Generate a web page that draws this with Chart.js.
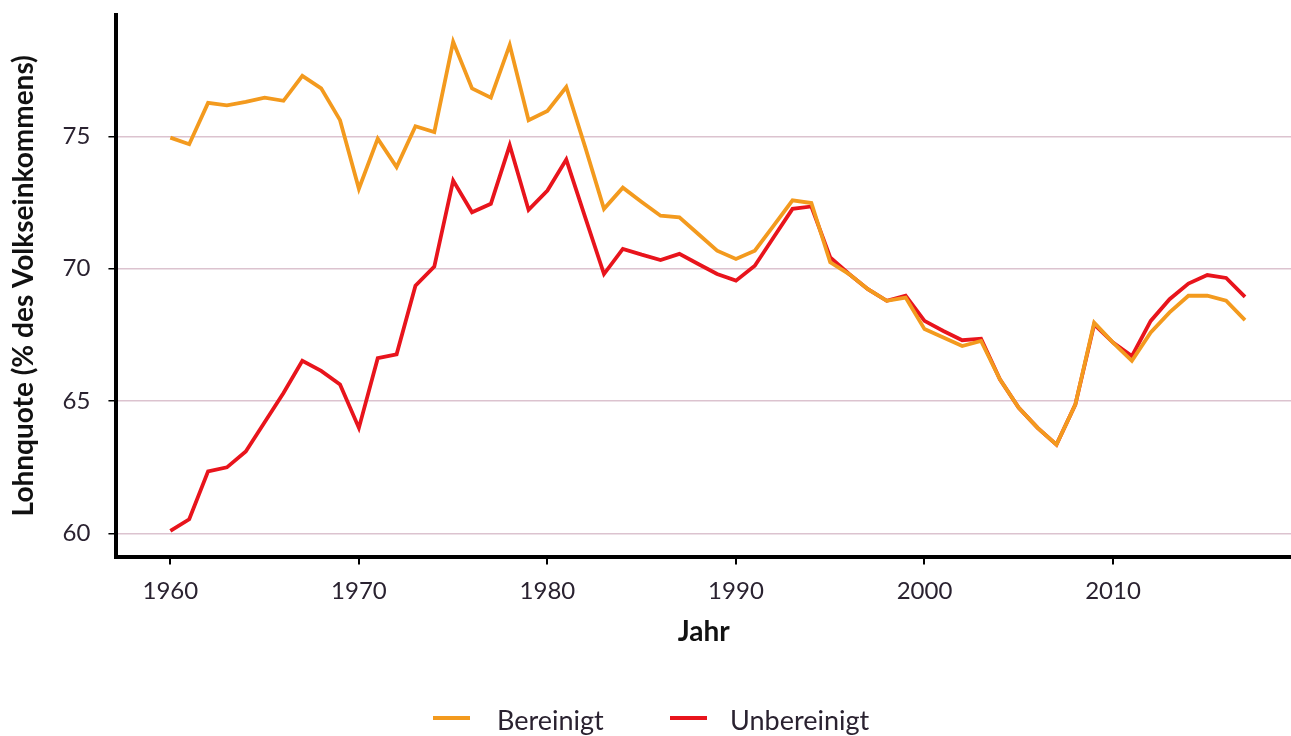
<!DOCTYPE html>
<html>
<head>
<meta charset="utf-8">
<script src="https://cdn.jsdelivr.net/npm/chart.js@4.4.1/dist/chart.umd.min.js"></script>
<style>
  html, body { margin: 0; padding: 0; background: #fff; }
  #wrap { position: relative; width: 1291px; height: 736px; font-family: Lato, "Open Sans", sans-serif; }
  .key { position: absolute; top: 716px; width: 37px; height: 4px; }
  .lbl { position: absolute; top: 703px; font-size: 27px; line-height: 34px; color: #2a2230; }
</style>
</head>
<body>
<div id="wrap">
  <canvas id="lohnChart" width="1291" height="736"></canvas>
  <div class="key" style="left:433px;background:#f39a1e"></div>
  <div class="lbl" style="left:497px">Bereinigt</div>
  <div class="key" style="left:670px;background:#e8141c"></div>
  <div class="lbl" style="left:730px">Unbereinigt</div>
</div>
<script>
// Jahre und Werte (Lohnquote in % des Volkseinkommens)
const years = [1960, 1961, 1962, 1963, 1964, 1965, 1966, 1967, 1968, 1969,
    1970, 1971, 1972, 1973, 1974, 1975, 1976, 1977, 1978, 1979,
    1980, 1981, 1982, 1983, 1984, 1985, 1986, 1987, 1988, 1989,
    1990, 1991, 1992, 1993, 1994, 1995, 1996, 1997, 1998, 1999,
    2000, 2001, 2002, 2003, 2004, 2005, 2006, 2007, 2008, 2009,
    2010, 2011, 2012, 2013, 2014, 2015, 2016, 2017];

const bereinigt = [74.95, 74.70, 76.26, 76.17, 76.30, 76.46, 76.34, 77.28, 76.81, 75.61,
    73.02, 74.91, 73.84, 75.38, 75.16, 78.57, 76.81, 76.46, 78.45, 75.61,
    75.96, 76.86, 74.60, 72.26, 73.06, 72.52, 72.00, 71.94, 71.31, 70.68,
    70.37, 70.68, 71.63, 72.58, 72.48, 70.24, 69.80, 69.23, 68.79, 68.91,
    67.72, 67.40, 67.08, 67.27, 65.82, 64.75, 63.99, 63.36, 64.87, 67.96,
    67.21, 66.52, 67.59, 68.35, 68.98, 68.98, 68.79, 68.06];

const unbereinigt = [60.10, 60.54, 62.35, 62.50, 63.10, 64.20, 65.31, 66.52, 66.14, 65.63,
    63.99, 66.62, 66.77, 69.36, 70.08, 73.33, 72.13, 72.45, 74.66, 72.22,
    72.95, 74.12, 71.95, 69.80, 70.75, 70.53, 70.33, 70.56, 70.18, 69.80,
    69.55, 70.11, 71.19, 72.26, 72.35, 70.43, 69.80, 69.23, 68.79, 68.98,
    68.03, 67.65, 67.30, 67.36, 65.82, 64.75, 63.99, 63.36, 64.87, 67.90,
    67.21, 66.70, 68.03, 68.85, 69.44, 69.76, 69.65, 68.94];

const xTicks = [1960, 1970, 1980, 1990, 2000, 2010];
const yTicks = [60, 65, 70, 75];

const orange = '#f39a1e';
const red = '#e8141c';
const font = 'Lato, "Open Sans", sans-serif';

const ctx = document.getElementById('lohnChart').getContext('2d');
new Chart(ctx, {
    type: 'line',
    data: {
        datasets: [
            {
                label: 'Bereinigt',
                data: years.map((y, i) => ({ x: y, y: bereinigt[i] })),
                borderColor: orange,
                borderWidth: 3.8,
                pointRadius: 0,
                tension: 0,
            },
            {
                label: 'Unbereinigt',
                data: years.map((y, i) => ({ x: y, y: unbereinigt[i] })),
                borderColor: red,
                borderWidth: 3.8,
                pointRadius: 0,
                tension: 0,
            }
        ]
    },
    options: {
        responsive: false,
        animation: false,
        layout: {
            padding: { top: 15, right: 0, left: 0, bottom: 47 }
        },
        plugins: {
            tooltip: { enabled: false },
            legend: { display: false }
        },
        scales: {
            x: {
                type: 'linear',
                min: 1957.14,
                max: 2019.44,
                afterBuildTicks: axis => { axis.ticks = xTicks.map(v => ({ value: v })); },
                border: { display: true, color: '#000', width: 4 },
                grid: {
                    drawOnChartArea: false,
                    color: '#000',
                    tickColor: '#000',
                    tickLength: 8,
                    lineWidth: 2
                },
                ticks: {
                    color: '#2a2230',
                    padding: 12,
                    font: { family: font, size: 24 },
                    callback: v => String(v)
                },
                title: {
                    display: true,
                    text: 'Jahr',
                    color: '#111',
                    padding: { top: -2, bottom: 40 },
                    font: { family: font, size: 28, weight: 'bold' }
                }
            },
            y: {
                min: 59.13,
                max: 79.58,
                afterBuildTicks: axis => { axis.ticks = yTicks.map(v => ({ value: v })); },
                afterFit: axis => { axis.paddingTop = 0; axis.paddingBottom = 0; },
                border: { display: true, color: '#000', width: 4 },
                grid: {
                    color: '#dcc3cf',
                    lineWidth: 1.5,
                    tickColor: '#000',
                    tickLength: 8
                },
                ticks: {
                    color: '#2a2230',
                    padding: 18,
                    font: { family: font, size: 24 }
                },
                title: {
                    display: true,
                    text: 'Lohnquote (% des Volkseinkommens)',
                    color: '#111',
                    padding: { top: 7, bottom: 4 },
                    font: { family: font, size: 28, weight: 'bold' }
                }
            }
        }
    }
});
</script>
</body>
</html>
